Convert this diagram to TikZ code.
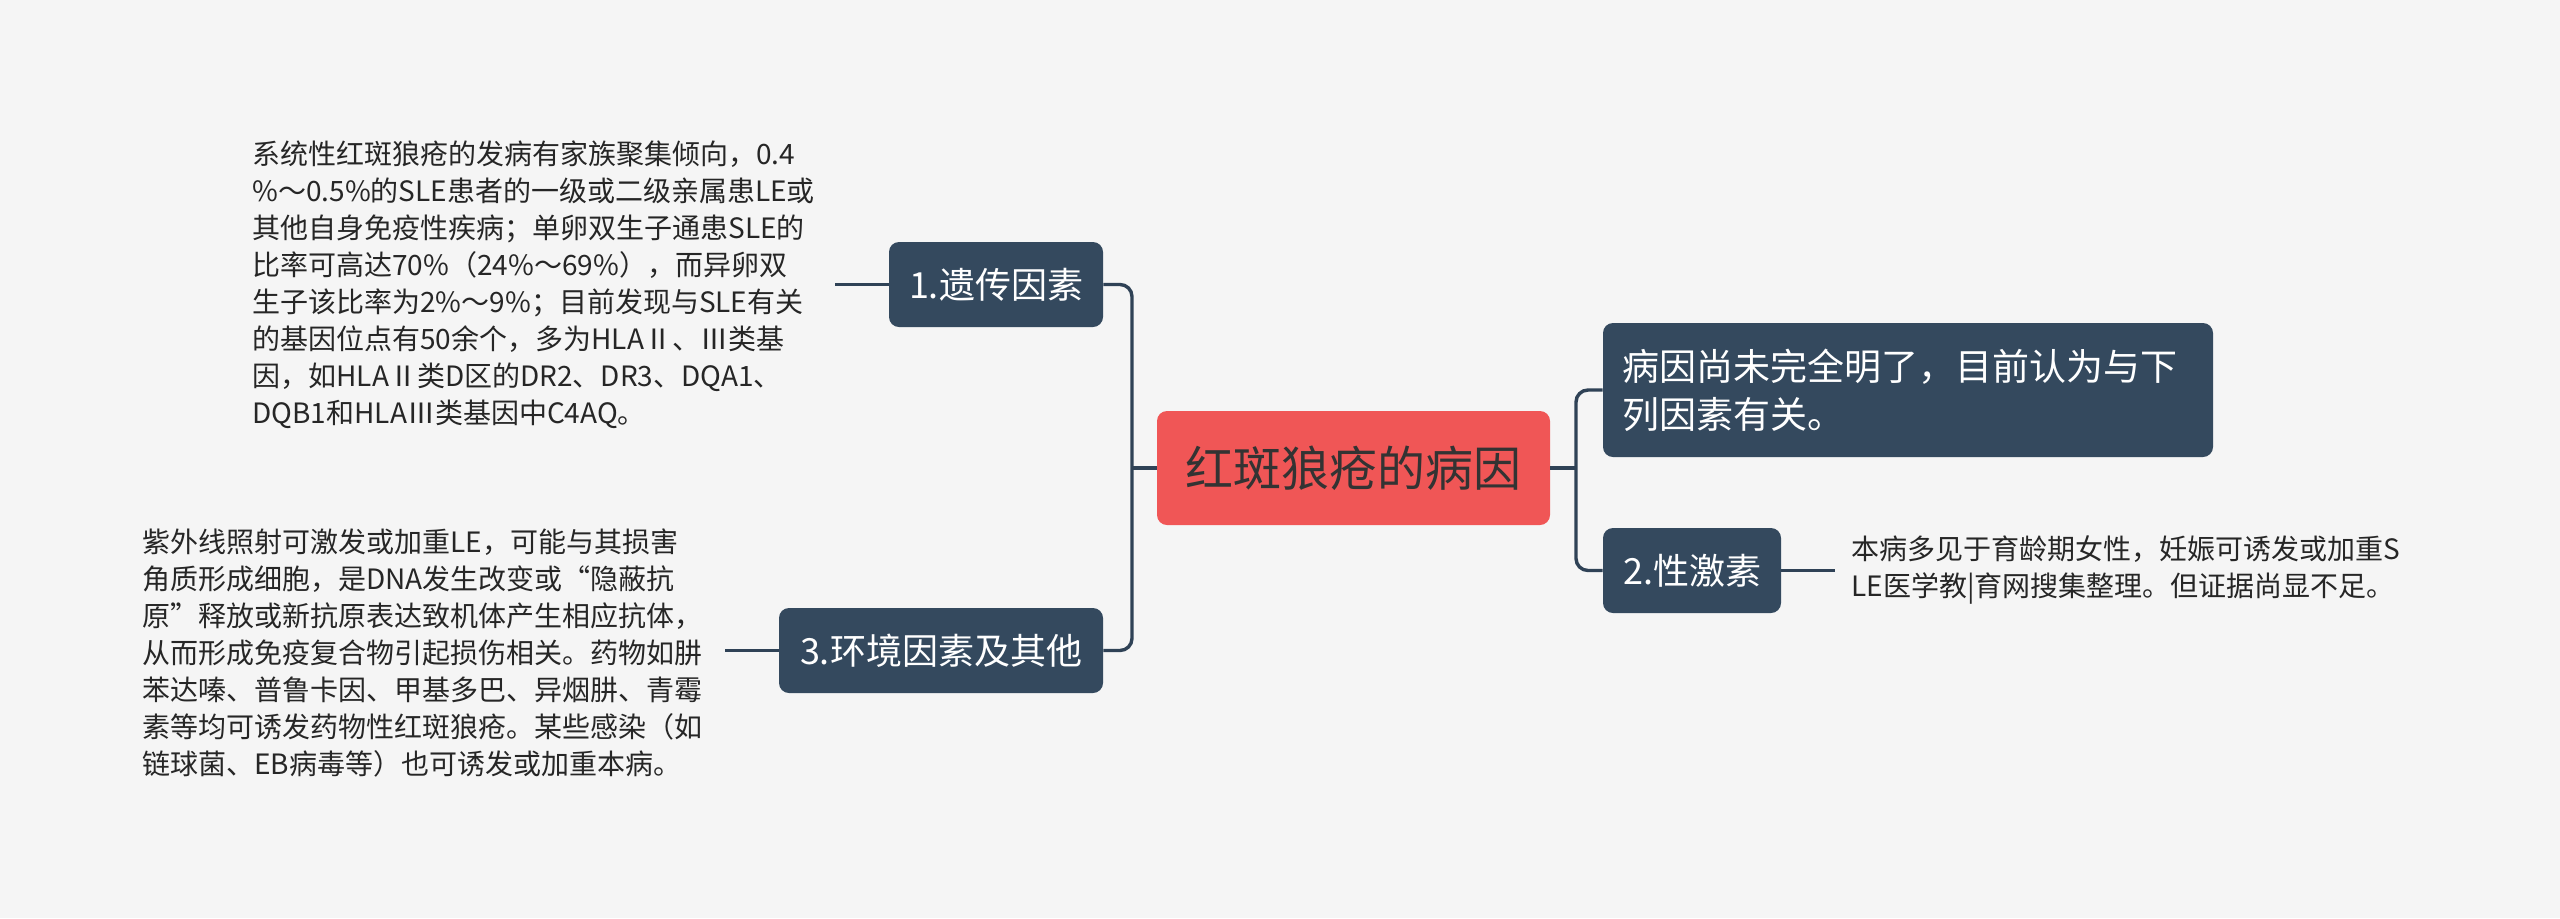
\documentclass[tikz,border=0pt]{standalone}
\usepackage{fontspec}
\setmainfont{Noto Sans CJK SC}
\usetikzlibrary{calc}
\definecolor{bgc}{HTML}{F5F5F5}
\definecolor{boxc}{HTML}{34495E}
\definecolor{linec}{HTML}{2F4256}
\definecolor{rootc}{HTML}{F05656}
\definecolor{roottext}{HTML}{333333}
\definecolor{leaftext}{HTML}{262626}
\begin{document}
\begin{tikzpicture}[x=0.5pt,y=-0.5pt,
  box/.style={fill=boxc, rounded corners=5pt, text=white, inner sep=0pt,
    font=\fontsize{18}{22}\selectfont},
  rootbox/.style={fill=rootc, rounded corners=5pt, text=roottext, inner sep=0pt,
    font=\fontsize{24}{28}\selectfont},
  leaf/.style={text=leaftext, inner sep=0pt, align=left,
    font=\fontsize{14}{18.5}\selectfont},
  conn/.style={draw=linec, line width=1.7pt},
  elbow/.style={conn, rounded corners=6pt}]
\fill[bgc] (0,0) rectangle (2560,918);
\useasboundingbox (0,0) rectangle (2560,918);

% main nodes
\node[rootbox, minimum width=196.5pt, minimum height=57pt] (root) at (1353.5,468) {红斑狼疮的病因};
\node[box, minimum width=107pt, minimum height=42.5pt] (n1) at (996,284.5) {1.遗传因素};
\node[box, minimum width=162pt, minimum height=42.5pt] (n3) at (941,650.5) {3.环境因素及其他};
\node[box, minimum width=305pt, minimum height=67pt, text width=286pt, align=left,
  font=\fontsize{18.5}{24}\selectfont] (nr) at (1908,390) {病因尚未完全明了，目前认为与下\\列因素有关。};
\node[box, minimum width=89pt, minimum height=42.5pt] (n2) at (1692,570.5) {2.性激素};

% leaf texts
\node[leaf, anchor=west] (t1) at (252,285) {系统性红斑狼疮的发病有家族聚集倾向，0.4\\
\%～0.5\%的SLE患者的一级或二级亲属患LE或\\
其他自身免疫性疾病；单卵双生子通患SLE的\\
比率可高达70\%（24\%～69\%），而异卵双\\
生子该比率为2\%～9\%；目前发现与SLE有关\\
的基因位点有50余个，多为HLAⅡ、Ⅲ类基\\
因，如HLAⅡ类D区的DR2、DR3、DQA1、\\
DQB1和HLAⅢ类基因中C4AQ。};
\node[leaf, anchor=west] (t3) at (142,653) {紫外线照射可激发或加重LE，可能与其损害\\
角质形成细胞，是DNA发生改变或“隐蔽抗\\
原”释放或新抗原表达致机体产生相应抗体，\\
从而形成免疫复合物引起损伤相关。药物如肼\\
苯达嗪、普鲁卡因、甲基多巴、异烟肼、青霉\\
素等均可诱发药物性红斑狼疮。某些感染（如\\
链球菌、EB病毒等）也可诱发或加重本病。};
\node[leaf, anchor=west] (t2) at (1851,570) {本病多见于育龄期女性，妊娠可诱发或加重S\\
LE医学教|育网搜集整理。但证据尚显不足。};

% connector end points
\coordinate (c1) at (835,284.5);
\coordinate (c3) at (725,650.5);
\coordinate (c2) at (1835,570.5);
\coordinate (jl) at (1132,468);
\coordinate (jr) at (1576,468);

% connectors
\draw[conn] (root.west) -- (jl);
\draw[elbow] (n1.east) -| (jl) |- (n3.east);
\draw[conn] (root.east) -- (jr);
\draw[elbow] (nr.west) -| (jr) |- (n2.west);
\draw[conn] (n1.west) -- (c1);
\draw[conn] (n3.west) -- (c3);
\draw[conn] (n2.east) -- (c2);
\end{tikzpicture}
\end{document}
